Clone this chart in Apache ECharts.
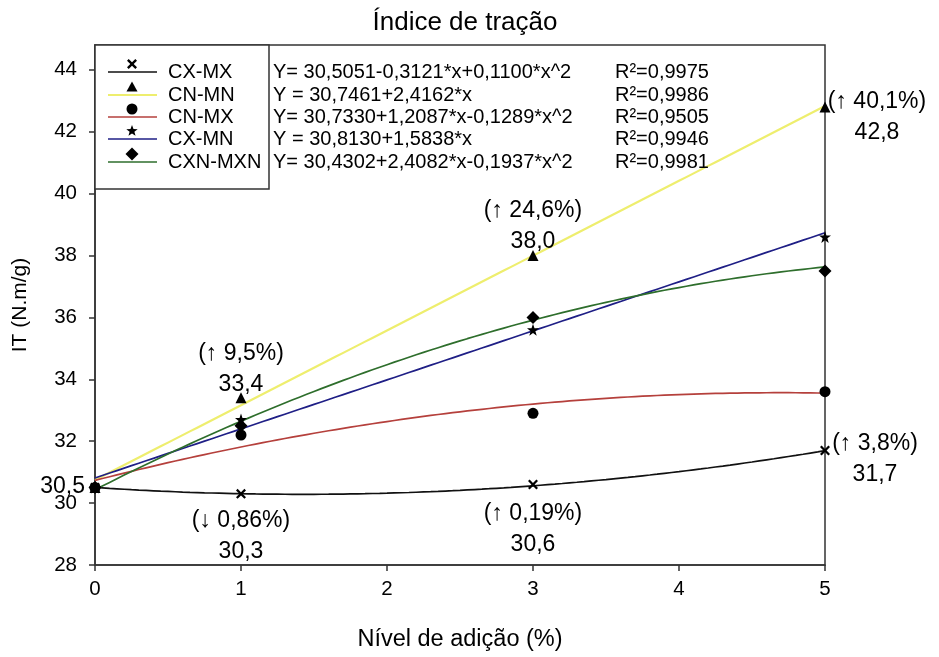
<!DOCTYPE html>
<html>
<head>
<meta charset="utf-8">
<script src="https://cdn.jsdelivr.net/npm/echarts@6/dist/echarts.min.js"></script>
<style>
  html, body { margin: 0; padding: 0; background: #ffffff; }
  #chart { width: 939px; height: 657px; }
</style>
</head>
<body>
<div id="chart"></div>
<script>
// ---- data ----
const xLevels = [0, 1, 3, 5];
const seriesNames = ['CX-MX', 'CN-MN', 'CN-MX', 'CX-MN', 'CXN-MXN'];
const valsCXMX   = [30.5, 30.3, 30.6, 31.7];
const valsCNMN   = [30.5, 33.4, 38.0, 42.8];
const valsCNMX   = [30.5, 32.2, 32.9, 33.6];
const valsCXMN   = [30.5, 32.7, 35.6, 38.6];
const valsCXNMXN = [30.5, 32.5, 36.0, 37.5];
// regression coefficients [a, b, c] of y = a + b*x + c*x^2
const coefCXMX   = [30.5051, -0.3121, 0.1100];
const coefCNMN   = [30.7461, 2.4162, 0];
const coefCNMX   = [30.7330, 1.2087, -0.1289];
const coefCXMN   = [30.8130, 1.5838, 0];
const coefCXNMXN = [30.4302, 2.4082, -0.1937];
const equationTexts = [
  'Y= 30,5051-0,3121*x+0,1100*x^2',
  'Y = 30,7461+2,4162*x',
  'Y= 30,7330+1,2087*x-0,1289*x^2',
  'Y = 30,8130+1,5838*x',
  'Y= 30,4302+2,4082*x-0,1937*x^2'
];
const r2Texts = ['R²=0,9975', 'R²=0,9986', 'R²=0,9505', 'R²=0,9946', 'R²=0,9981'];
const yTicks = [28, 30, 32, 34, 36, 38, 40, 42, 44];
const xTicks = [0, 1, 2, 3, 4, 5];
// value callouts
const annX    = [0, 1, 3, 5, 1, 3, 5];
const annY    = [30.5, 33.4, 38.0, 42.8, 30.3, 30.6, 31.7];
const annText = ['30,5', '(↑ 9,5%)\n33,4', '(↑ 24,6%)\n38,0', '(↑ 40,1%)\n42,8',
                 '(↓ 0,86%)\n30,3', '(↑ 0,19%)\n30,6', '(↑ 3,8%)\n31,7'];

// ---- styling ----
const FONT = 'Liberation Sans, Arial, sans-serif';
const values = [valsCXMX, valsCNMN, valsCNMX, valsCXMN, valsCXNMXN];
const coefs = [coefCXMX, coefCNMN, coefCNMX, coefCXMN, coefCXNMXN];
const lineColors = ['#111111', '#eeee6e', '#b5403c', '#1f1f86', '#2e6e2c'];
const lineWidths = [1.7, 2.2, 1.7, 1.7, 1.7];
const crossPath = 'path://M0,1.6 L1.6,0 L5,3.4 L8.4,0 L10,1.6 L6.6,5 L10,8.4 L8.4,10 L5,6.6 L1.6,10 L0,8.4 L3.4,5 Z';
const starPath = 'path://M0,-10 L2.35,-3.24 L9.51,-3.09 L3.8,1.24 L5.88,8.09 L0,4 L-5.88,8.09 L-3.8,1.24 L-9.51,-3.09 L-2.35,-3.24 Z';
const symbols = [crossPath, 'triangle', 'circle', starPath, 'diamond'];
const symbolSizes = [10, 11, 11, 12, 13];
// callout placement: [dx, dy, align]
const annPlacement = [[-10, -1, 'right'], [0, -29, 'center'], [0, -29, 'center'], [52, 10, 'center'],
                      [0, 42, 'center'], [0, 45, 'center'], [50, 9, 'center']];

function fitCurve(c) {
  const pts = [];
  for (let i = 0; i <= 100; i++) {
    const x = i * 0.05;
    pts.push([x, c[0] + c[1] * x + c[2] * x * x]);
  }
  return pts;
}

const series = [];
seriesNames.forEach((name, k) => {
  series.push({
    name: name + ' ajuste',
    type: 'line',
    data: fitCurve(coefs[k]),
    showSymbol: false,
    symbol: 'none',
    lineStyle: { color: lineColors[k], width: lineWidths[k] },
    z: 2,
    silent: true
  });
});
seriesNames.forEach((name, k) => {
  series.push({
    name: name,
    type: 'scatter',
    data: xLevels.map((x, i) => [x, values[k][i]]),
    symbol: symbols[k],
    symbolSize: symbolSizes[k],
    itemStyle: { color: '#000000', opacity: 1 },
    z: 3
  });
});
series.push({
  name: 'rotulos',
  type: 'scatter',
  symbolSize: 0.1,
  itemStyle: { color: 'transparent', opacity: 1 },
  z: 5,
  silent: true,
  data: annX.map((x, i) => ({
    value: [x, annY[i]],
    label: {
      show: true,
      position: 'inside',
      formatter: annText[i],
      offset: [annPlacement[i][0], annPlacement[i][1]],
      align: annPlacement[i][2],
      verticalAlign: 'middle',
      fontFamily: FONT,
      fontSize: 23,
      lineHeight: 31,
      color: '#000000',
      opacity: 1,
      textBorderWidth: 0
    }
  }))
});

// legend box drawn as graphics
const LEG_X = 95, LEG_Y = 45, LEG_W = 174, LEG_H = 144;
const rowY = [72, 95, 117, 139, 162];
function markerShape(k, cx, cy) {
  const s = { fill: '#000000' };
  if (k === 0) {
    const r = 5, w = 1.7;
    return { type: 'polygon', shape: { points: [
      [cx - r + w, cy - r], [cx, cy - w], [cx + r - w, cy - r], [cx + r, cy - r + w], [cx + w, cy],
      [cx + r, cy + r - w], [cx + r - w, cy + r], [cx, cy + w], [cx - r + w, cy + r], [cx - r, cy + r - w],
      [cx - w, cy], [cx - r, cy - r + w]] }, style: s };
  }
  if (k === 1) {
    return { type: 'polygon', shape: { points: [[cx, cy - 5.5], [cx + 5.5, cy + 4.5], [cx - 5.5, cy + 4.5]] }, style: s };
  }
  if (k === 2) {
    return { type: 'circle', shape: { cx: cx, cy: cy, r: 5.5 }, style: s };
  }
  if (k === 3) {
    const pts = [];
    for (let i = 0; i < 10; i++) {
      const a = -Math.PI / 2 + i * Math.PI / 5;
      const r = i % 2 === 0 ? 6 : 2.5;
      pts.push([cx + r * Math.cos(a), cy + r * Math.sin(a)]);
    }
    return { type: 'polygon', shape: { points: pts }, style: s };
  }
  return { type: 'polygon', shape: { points: [[cx, cy - 6.5], [cx + 6.5, cy], [cx, cy + 6.5], [cx - 6.5, cy]] }, style: s };
}
const graphics = [{
  type: 'rect',
  shape: { x: LEG_X, y: LEG_Y, width: LEG_W, height: LEG_H },
  style: { fill: '#ffffff', stroke: '#333333', lineWidth: 1.5 },
  z: 10
}];
seriesNames.forEach((name, k) => {
  const y = rowY[k];
  graphics.push({ type: 'line', shape: { x1: 108, y1: y, x2: 157, y2: y },
                  style: { stroke: lineColors[k], lineWidth: lineWidths[k] }, z: 11 });
  const m = markerShape(k, 132, y - 8);
  m.z = 12;
  graphics.push(m);
  graphics.push({ type: 'text', x: 168, y: y, z: 12,
                  style: { text: name, font: '20px ' + FONT, fill: '#000', verticalAlign: 'middle' } });
  graphics.push({ type: 'text', x: 273, y: y, z: 12,
                  style: { text: equationTexts[k], font: '20px ' + FONT, fill: '#000', verticalAlign: 'middle' } });
  graphics.push({ type: 'text', x: 615, y: y, z: 12,
                  style: { text: r2Texts[k], font: '20px ' + FONT, fill: '#000', verticalAlign: 'middle' } });
});

const chart = echarts.init(document.getElementById('chart'), null, { renderer: 'canvas' });
chart.setOption({
  animation: false,
  backgroundColor: '#ffffff',
  title: {
    text: 'Índice de tração',
    left: 460,
    top: 5,
    textAlign: 'center',
    textStyle: { fontFamily: FONT, fontSize: 26, fontWeight: 'normal', color: '#000' }
  },
  grid: {
    left: 95, right: 114, top: 45, bottom: 87,
    show: true, borderColor: '#333333', borderWidth: 1.5, backgroundColor: 'transparent'
  },
  xAxis: {
    type: 'value',
    min: 0, max: 5, interval: 1,
    name: 'Nível de adição (%)',
    nameLocation: 'middle',
    nameGap: 63,
    nameTextStyle: { fontFamily: FONT, fontSize: 23.5, color: '#000' },
    axisLine: { show: true, lineStyle: { color: '#333333', width: 1.5 } },
    axisTick: { show: true, length: 6, lineStyle: { color: '#333333', width: 1.5 }, customValues: xTicks },
    axisLabel: { fontFamily: FONT, fontSize: 20.5, color: '#000', margin: 14, customValues: xTicks },
    splitLine: { show: false }
  },
  yAxis: {
    type: 'value',
    min: 28, max: 44.8, interval: 2,
    name: 'IT (N.m/g)',
    nameLocation: 'middle',
    nameGap: 64,
    nameRotate: 90,
    nameTextStyle: { fontFamily: FONT, fontSize: 21, color: '#000' },
    axisLine: { show: true, lineStyle: { color: '#333333', width: 1.5 } },
    axisTick: { show: true, length: 6, lineStyle: { color: '#333333', width: 1.5 }, customValues: yTicks },
    axisLabel: { fontFamily: FONT, fontSize: 20.5, color: '#000', margin: 18, customValues: yTicks },
    splitLine: { show: false }
  },
  series: series,
  graphic: graphics
});
</script>
</body>
</html>
